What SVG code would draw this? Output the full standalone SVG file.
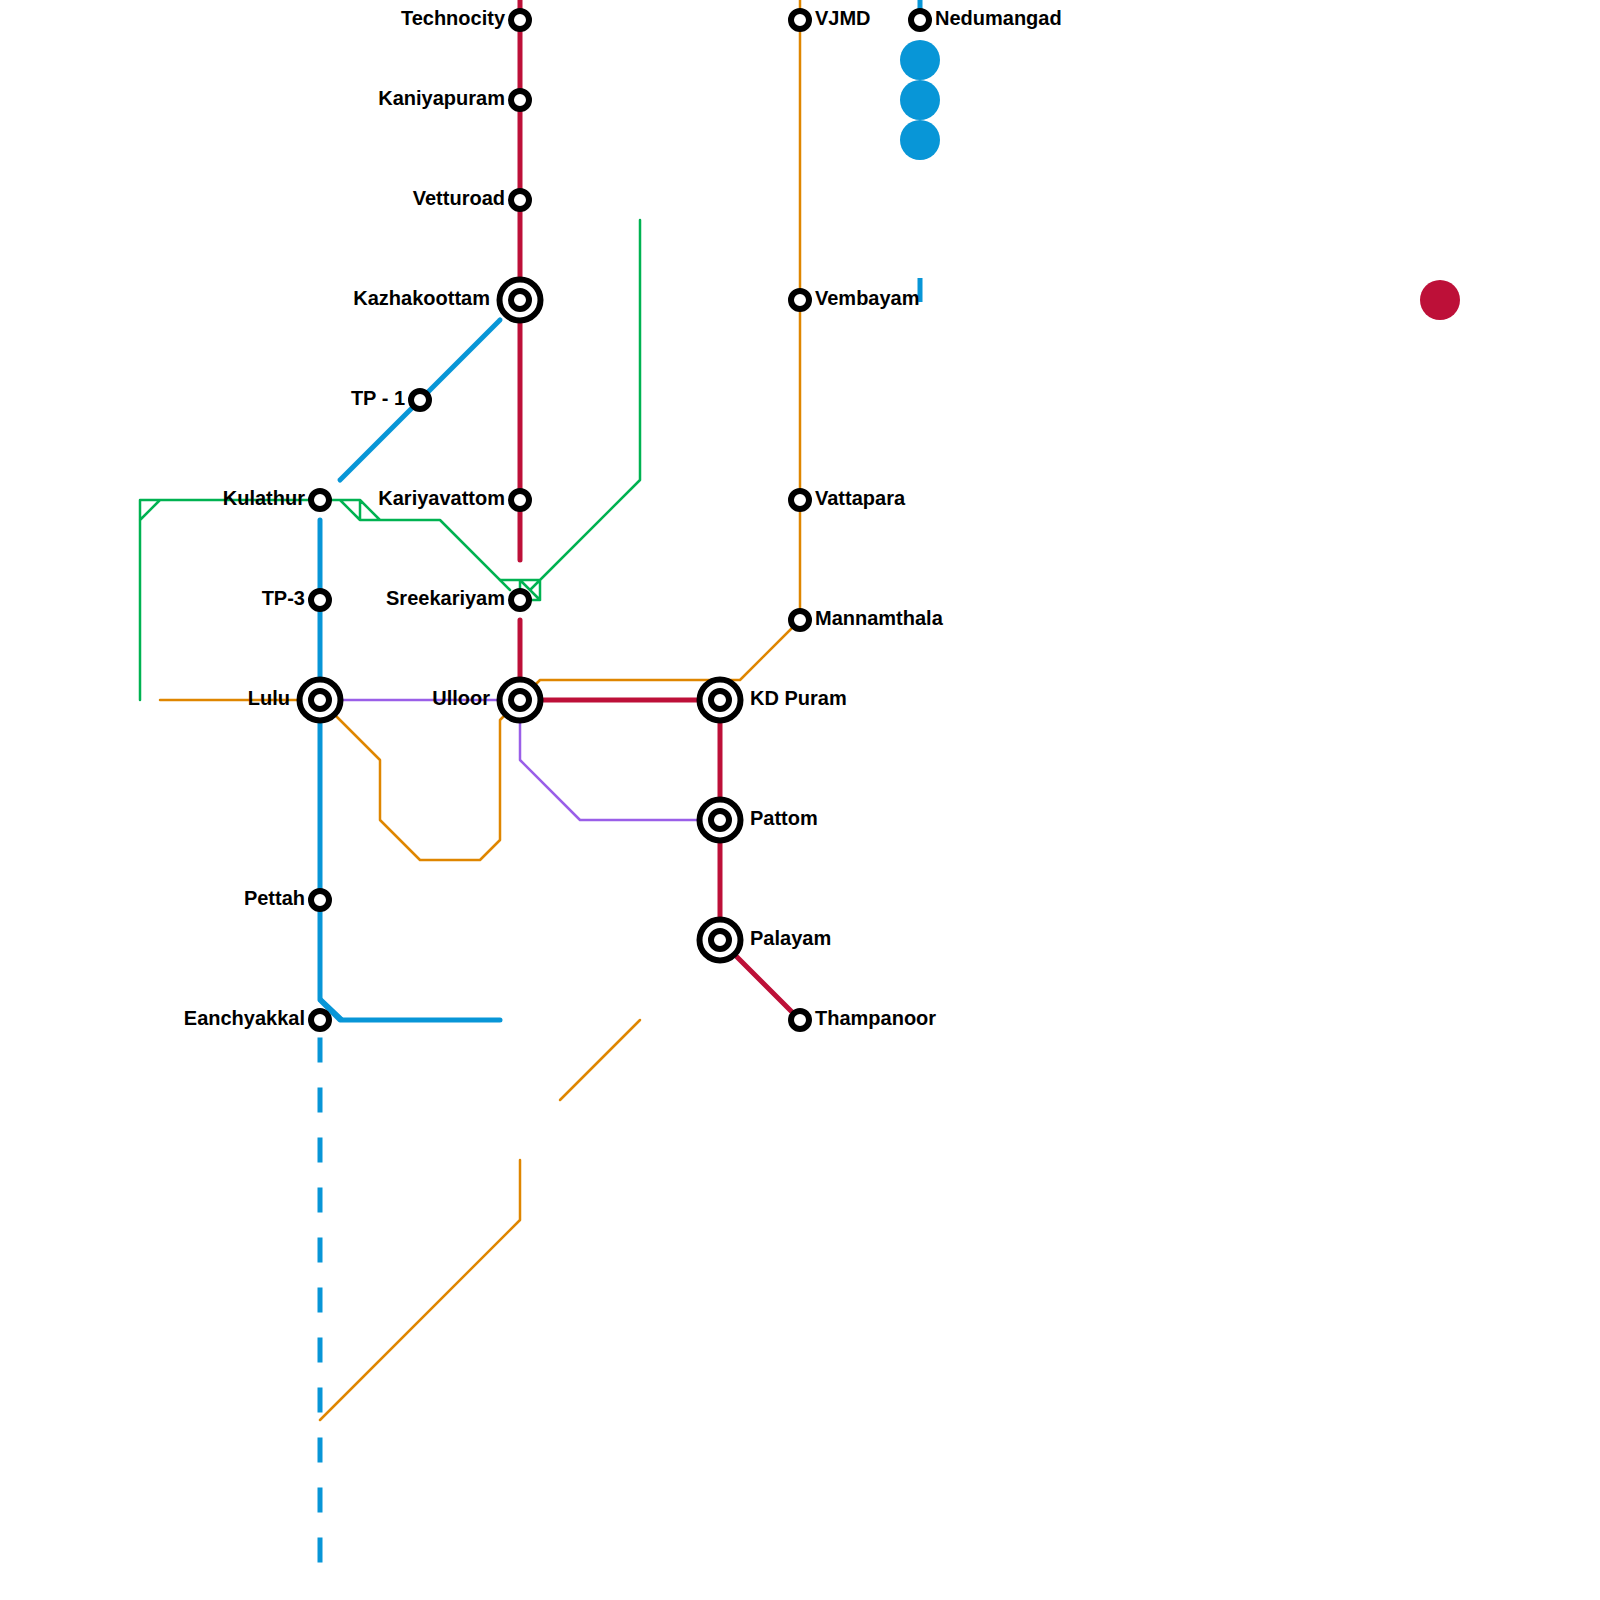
<svg xmlns="http://www.w3.org/2000/svg" width="1600" height="1600" viewBox="0 0 1600 1600">
<style>
.bg{fill:#fff}
.l{fill:none;stroke-linejoin:round;stroke-linecap:round}
.red{stroke:#bd1038;stroke-width:5}
.blue{stroke:#0896d7;stroke-width:5}
.green{stroke:#00b251;stroke-width:2.5}
.orange{stroke:#df8600;stroke-width:2.5}
.purple{stroke:#9a5fe8;stroke-width:2.5}
.ring{fill:#fff;stroke:#000;stroke-width:6}
.hub{fill:#fff;stroke:#000;stroke-width:6}
text{font-family:"Liberation Sans",Arial,sans-serif;font-weight:700;font-size:20px;fill:#000}
.e{text-anchor:end}
</style>
<rect class="bg" width="1600" height="1600"/>
<g id="connectors">
<path class="l orange" d="M160 700H320L380 760V820L420 860H480L500 840V720L506 714"/>
<path class="l orange" d="M534 686L540 680H740L800 620V0"/>
<path class="l orange" d="M560 1100L640 1020"/>
<path class="l orange" d="M320 1420L520 1220V1160"/>
<path class="l green" d="M140 700V500H360V520M140 520L160 500M340 500L360 520H440L510 590M360 500L380 520"/>
<path class="l green" d="M500 580H540V600H520V580L540 600M530 590L640 480V220"/>
<path class="l purple" d="M340 700H500"/>
<path class="l purple" d="M520 720V760L580 820H700"/>
<path class="l red" d="M520 0V560"/>
<path class="l red" d="M520 620V700H720V940L800 1020"/>
<path class="l blue" d="M340 480L500 320"/>
<path class="l blue" d="M320 520V1000L340 1020H500"/>
<path class="l blue" d="M321 1000L341 1019"/>
<path class="blue" fill="none" stroke-dasharray="25 25" d="M320 1037.500V1562.500"/>
<path class="blue" fill="none" d="M920 0V20M920 278V302"/>
</g>
<g id="dots">
<circle cx="920" cy="60" r="20" fill="#0896d7"/>
<circle cx="920" cy="100" r="20" fill="#0896d7"/>
<circle cx="920" cy="140" r="20" fill="#0896d7"/>
<circle cx="1440" cy="300" r="20" fill="#bd1038"/>
</g>
<g id="technocity"><circle class="ring" cx="520" cy="20" r="9"/><text class="e" x="505" y="25">Technocity</text></g>
<g id="kaniyapuram"><circle class="ring" cx="520" cy="100" r="9"/><text class="e" x="505" y="105">Kaniyapuram</text></g>
<g id="vetturoad"><circle class="ring" cx="520" cy="200" r="9"/><text class="e" x="505" y="205">Vetturoad</text></g>
<g id="kazhakoottam"><circle class="hub" cx="520" cy="300" r="20.500"/><circle class="ring" cx="520" cy="300" r="9"/><text class="e" x="490" y="305">Kazhakoottam</text></g>
<g id="tp1"><circle class="ring" cx="420" cy="400" r="9"/><text class="e" x="405" y="405">TP - 1</text></g>
<g id="kulathur"><circle class="ring" cx="320" cy="500" r="9"/><text class="e" x="305" y="505">Kulathur</text></g>
<g id="kariyavattom"><circle class="ring" cx="520" cy="500" r="9"/><text class="e" x="505" y="505">Kariyavattom</text></g>
<g id="tp3"><circle class="ring" cx="320" cy="600" r="9"/><text class="e" x="305" y="605">TP-3</text></g>
<g id="sreekariyam"><circle class="ring" cx="520" cy="600" r="9"/><text class="e" x="505" y="605">Sreekariyam</text></g>
<g id="lulu"><circle class="hub" cx="320" cy="700" r="20.500"/><circle class="ring" cx="320" cy="700" r="9"/><text class="e" x="290" y="705">Lulu</text></g>
<g id="ulloor"><circle class="hub" cx="520" cy="700" r="20.500"/><circle class="ring" cx="520" cy="700" r="9"/><text class="e" x="490" y="705">Ulloor</text></g>
<g id="kdpuram"><circle class="hub" cx="720" cy="700" r="20.500"/><circle class="ring" cx="720" cy="700" r="9"/><text x="750" y="705">KD Puram</text></g>
<g id="pattom"><circle class="hub" cx="720" cy="820" r="20.500"/><circle class="ring" cx="720" cy="820" r="9"/><text x="750" y="825">Pattom</text></g>
<g id="palayam"><circle class="hub" cx="720" cy="940" r="20.500"/><circle class="ring" cx="720" cy="940" r="9"/><text x="750" y="945">Palayam</text></g>
<g id="pettah"><circle class="ring" cx="320" cy="900" r="9"/><text class="e" x="305" y="905">Pettah</text></g>
<g id="eanchyakkal"><circle class="ring" cx="320" cy="1020" r="9"/><text class="e" x="305" y="1025">Eanchyakkal</text></g>
<g id="thampanoor"><circle class="ring" cx="800" cy="1020" r="9"/><text x="815" y="1025">Thampanoor</text></g>
<g id="vjmd"><circle class="ring" cx="800" cy="20" r="9"/><text x="815" y="25">VJMD</text></g>
<g id="nedumangad"><circle class="ring" cx="920" cy="20" r="9"/><text x="935" y="25">Nedumangad</text></g>
<g id="vembayam"><circle class="ring" cx="800" cy="300" r="9"/><text x="815" y="305">Vembayam</text></g>
<g id="vattapara"><circle class="ring" cx="800" cy="500" r="9"/><text x="815" y="505">Vattapara</text></g>
<g id="mannamthala"><circle class="ring" cx="800" cy="620" r="9"/><text x="815" y="625">Mannamthala</text></g>
</svg>
